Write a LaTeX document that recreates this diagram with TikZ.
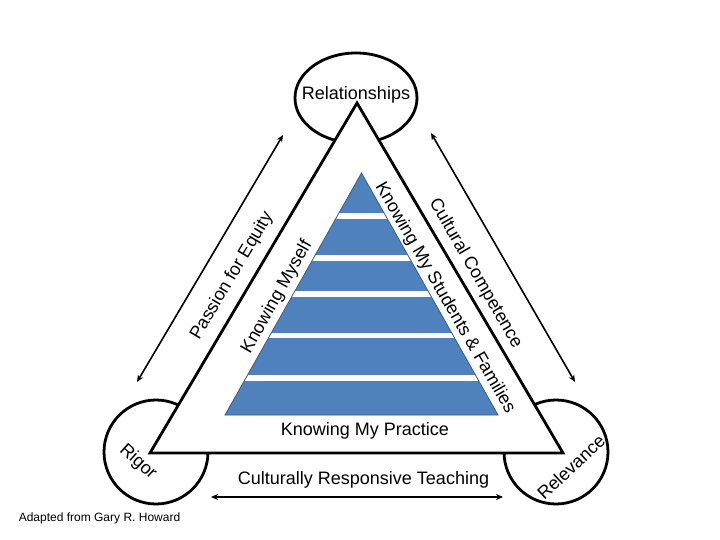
\documentclass[tikz,border=0pt]{standalone}
\usepackage{fontspec}
\setmainfont{Liberation Sans}
\usetikzlibrary{arrows.meta}
\definecolor{pyrblue}{RGB}{79,129,189}
\definecolor{pyredge}{RGB}{56,93,138}
\begin{document}
\begin{tikzpicture}[x=1pt,y=-1pt,
  lbl/.style={font=\fontsize{18}{20}\selectfont, inner sep=0pt},
  small/.style={font=\fontsize{12}{14}\selectfont, inner sep=0pt},
  outline/.style={line width=2.8pt, draw=black},
  dbl/.style={line width=1.6pt, {Stealth[length=7pt,width=6pt]}-{Stealth[length=7pt,width=6pt]}}
]
\useasboundingbox[fill=white] (0,0) rectangle (720,540);
% circles behind the triangle
\draw[outline] (356,98) ellipse [x radius=61, y radius=45];
\draw[outline] (156,452) circle [radius=52];
\draw[outline] (556,452) circle [radius=52];
% main triangle
\coordinate (A) at (357,103);
\coordinate (B) at (150,453);
\coordinate (C) at (563,453);
\draw[outline, fill=white] (A) -- (B) -- (C) -- cycle;
% blue pyramid
\coordinate (P) at (361.5,173);
\coordinate (Q) at (225,415);
\coordinate (R) at (498,415);
\fill[pyrblue] (P) -- (Q) -- (R) -- cycle;
\begin{scope}
  \clip (P) -- (Q) -- (R) -- cycle;
  \foreach \yy in {216,258,294,335.5,378}
    \fill[white] (200,\yy-2.9) rectangle (520,\yy+2.9);
\end{scope}
\draw[pyredge, line width=0.8pt] (P) -- (Q) -- (R) -- cycle;
% texts
\node[lbl, anchor=base] (rel) at (356,100) {Relationships};
\node[lbl, anchor=base] (kmp) at (365,435.5) {Knowing My Practice};
\node[lbl, anchor=base] (crt) at (363.5,484.5) {Culturally Responsive Teaching};
\node[small, anchor=base] (adp) at (99.5,521) {Adapted from Gary R. Howard};
\node[lbl, rotate=59.4] (pfe) at (232,276) {Passion for Equity};
\node[lbl, rotate=60.6] (kms) at (277,297) {Knowing Myself};
\node[lbl, rotate=-60] (ksf) at (445,298) {Knowing My Students \& Families};
\node[lbl, rotate=-60] (cc) at (475.5,273.5) {Cultural Competence};
\node[lbl, rotate=-42] (rig) at (138,462) {Rigor};
\node[lbl, rotate=43] (relv) at (571,467) {Relevance};
% arrows
\coordinate (la1) at (137,382);
\coordinate (la2) at (283,135);
\coordinate (ra1) at (431,133);
\coordinate (ra2) at (575,382);
\coordinate (ba1) at (211,497);
\coordinate (ba2) at (503,497);
\draw[dbl] (la1) -- (la2);
\draw[dbl] (ra1) -- (ra2);
\draw[dbl] (ba1) -- (ba2);
\end{tikzpicture}
\end{document}
